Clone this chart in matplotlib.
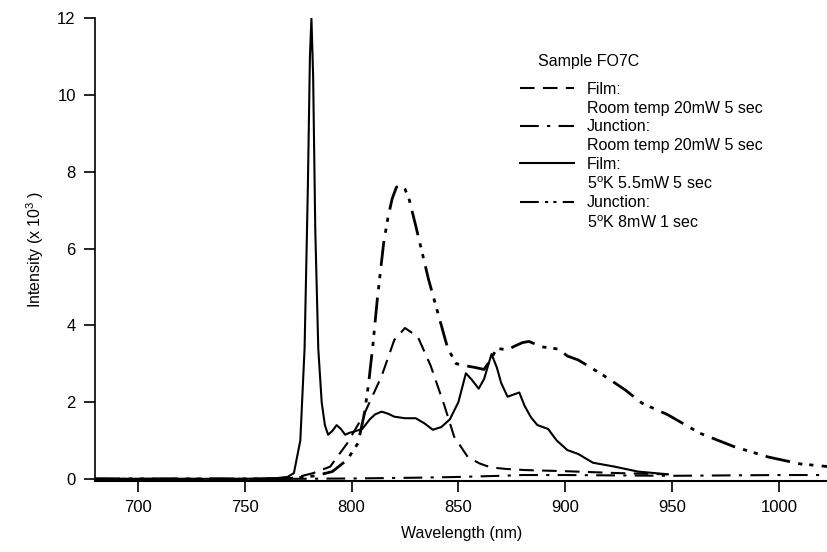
import matplotlib
matplotlib.use("Agg")
import matplotlib.pyplot as plt
from matplotlib.lines import Line2D

plt.rcParams['font.family'] = ['Liberation Sans', 'DejaVu Sans']
plt.rcParams['mathtext.default'] = 'regular'

# Film, room temp 20mW 5 sec (dashed)
film_rt_nm = [680, 760, 770, 775, 782, 790, 798, 806, 814, 820, 825, 831, 837,
              843.5, 848, 854.5, 860, 865, 872, 881, 900, 925, 948]
film_rt_val = [0, 0, 0.01, 0.05, 0.15, 0.32, 0.93, 1.7, 2.67, 3.62, 3.93, 3.7,
               2.95, 1.9, 1.1, 0.56, 0.4, 0.3, 0.26, 0.23, 0.2, 0.15, 0.12]

# Junction, room temp 20mW 5 sec (dash-dot)
junc_rt_nm = [680, 770, 800, 830, 850, 870, 880, 900, 950, 1000, 1023]
junc_rt_val = [0, 0, 0.01, 0.03, 0.05, 0.08, 0.1, 0.1, 0.08, 0.1, 0.1]

# Film, 5K 5.5mW 5 sec (solid)
film_5k_nm = [680, 700, 750, 765, 770, 773, 776, 778, 779.5, 780.5, 781.2, 782,
              783, 784.4, 786, 787.5, 789, 791, 793, 795, 797, 799, 801, 805,
              808.5, 811, 814, 817, 820, 825, 830, 834, 838, 842, 846, 850,
              853.5, 856, 859.5, 862, 865.5, 868, 870, 873, 876, 878.5, 881,
              884, 887, 892, 896, 901, 906, 913, 923, 934, 948]
film_5k_val = [0, 0, 0, 0.02, 0.05, 0.15, 1.0, 3.4, 7.5, 11.0, 12.0, 10.5, 6.5,
               3.4, 2.0, 1.4, 1.15, 1.25, 1.4, 1.3, 1.15, 1.2, 1.23, 1.3, 1.55,
               1.68, 1.75, 1.7, 1.62, 1.58, 1.58, 1.45, 1.28, 1.35, 1.55, 2.0,
               2.75, 2.6, 2.35, 2.6, 3.25, 2.9, 2.5, 2.14, 2.2, 2.25, 1.9, 1.6,
               1.4, 1.3, 1.0, 0.75, 0.65, 0.42, 0.32, 0.19, 0.12]

# Junction, 5K 8mW 1 sec (dash-dot-dot)
junc_5k_nm = [680, 760, 770, 775, 783, 791, 798, 803, 806, 808, 810, 812, 815,
              817, 819, 821, 823, 825, 827, 830, 833, 836, 840.5, 845, 849, 853,
              858, 862, 865, 868, 873, 876, 880, 883, 889, 897, 901, 906, 912,
              920, 928, 936, 948, 963, 979, 995, 1010, 1023]
junc_5k_val = [0, 0, 0.01, 0.03, 0.08, 0.19, 0.5, 0.93, 1.7, 2.5, 3.5, 4.66,
               6.14, 6.8, 7.3, 7.6, 7.65, 7.55, 7.27, 6.6, 5.9, 5.2, 4.3, 3.4,
               3.0, 2.95, 2.9, 2.85, 3.1, 3.4, 3.36, 3.45, 3.55, 3.58, 3.44,
               3.38, 3.2, 3.1, 2.9, 2.62, 2.32, 1.97, 1.67, 1.19, 0.84, 0.57,
               0.39, 0.32]

x_ticks = [700, 750, 800, 850, 900, 950, 1000]
y_ticks = [0, 2, 4, 6, 8, 10, 12]

fig = plt.figure(figsize=(8.28, 5.52), dpi=100)
ax = fig.add_axes([0.115, 0.129, 0.885, 0.838])

dashed = (0, (7, 4))
dashdot = (0, (9, 4, 1.5, 4))
dashdotdot = (0, (9, 3, 1.5, 2.5, 1.5, 3))

ax.plot(film_rt_nm, film_rt_val, color='black', lw=1.5, linestyle=dashed)
ax.plot(junc_rt_nm, junc_rt_val, color='black', lw=1.5, linestyle=dashdot)
ax.plot(film_5k_nm, film_5k_val, color='black', lw=1.5, linestyle='-')
ax.plot(junc_5k_nm, junc_5k_val, color='black', lw=2.0, linestyle=dashdotdot)

ax.set_xlim(680, 1023)
ax.set_ylim(-0.05, 12)
ax.set_xticks(x_ticks)
ax.set_yticks(y_ticks)
ax.tick_params(direction='out', length=8, width=1.2, labelsize=12, pad=6)
ax.spines['top'].set_visible(False)
ax.spines['right'].set_visible(False)
ax.spines['left'].set_linewidth(1.2)
ax.spines['bottom'].set_linewidth(1.5)
ax.spines['left'].set_bounds(0, 12)

ax.set_xlabel("Wavelength (nm)", fontsize=11.5, labelpad=8)
ax.set_ylabel("Intensity (x 10$^{3}$ )", fontsize=11.5, labelpad=8)

# legend: handle on first line of each entry, blank handle on second line
blank = Line2D([], [], linestyle='none')
handles = [
    Line2D([], [], color='black', lw=1.5, linestyle=dashed), blank,
    Line2D([], [], color='black', lw=1.5, linestyle=dashdot), blank,
    Line2D([], [], color='black', lw=1.5, linestyle='-'), blank,
    Line2D([], [], color='black', lw=1.5, linestyle=dashdotdot), blank,
]
labels = [
    "Film:", "Room temp 20mW 5 sec",
    "Junction:", "Room temp 20mW 5 sec",
    "Film:", "5$^{o}$K 5.5mW 5 sec",
    "Junction:", "5$^{o}$K 8mW 1 sec",
]
leg = ax.legend(handles, labels, title="    Sample FO7C", frameon=False,
                fontsize=11.5, title_fontsize=11.5, handlelength=3.4,
                handletextpad=0.8, labelspacing=0.23,
                loc='upper left', bbox_to_anchor=(0.56, 0.953))
leg._legend_box.align = 'left'
leg._legend_box.sep = 9

fig.savefig("out.png", dpi=100)
